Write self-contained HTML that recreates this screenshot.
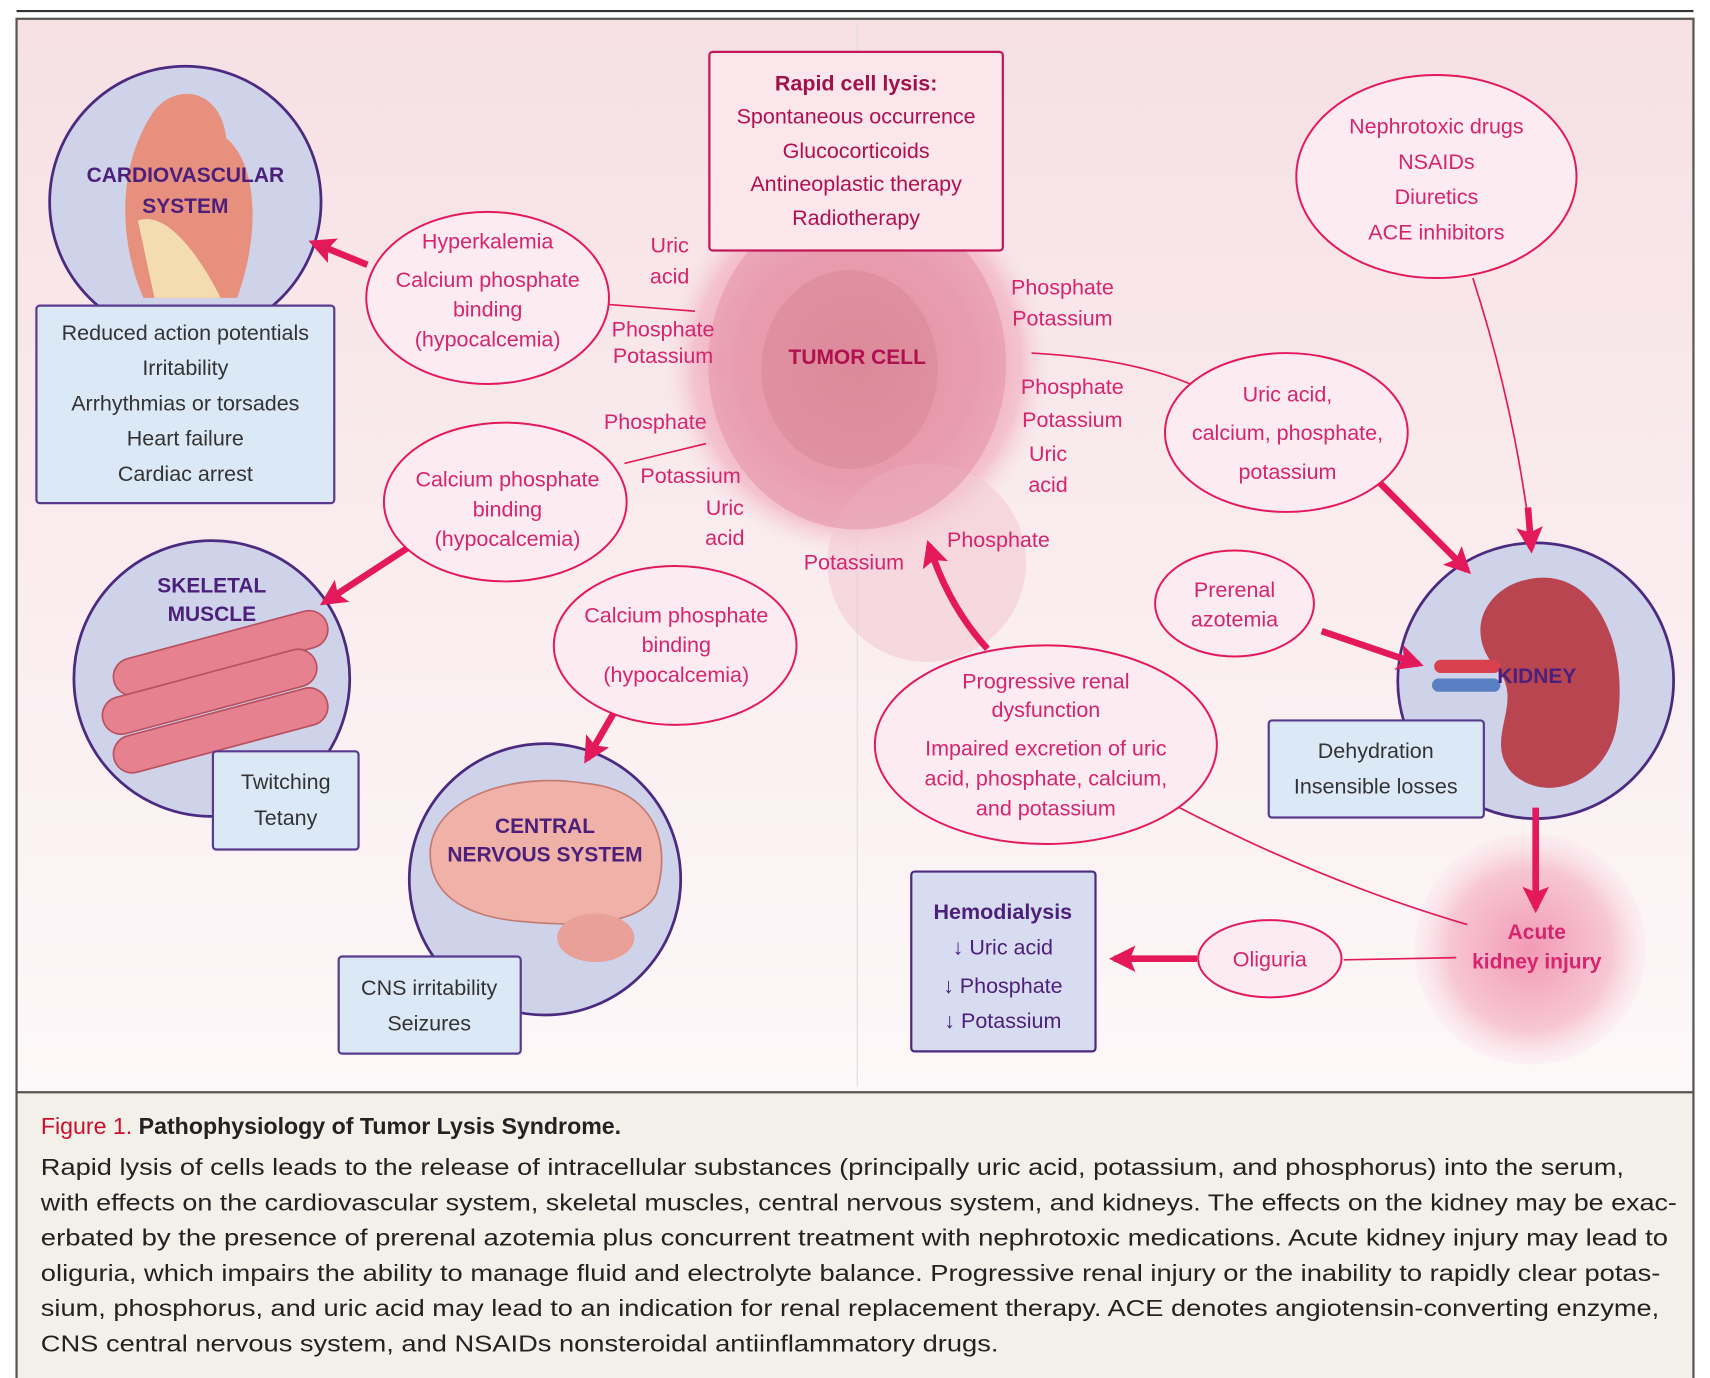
<!DOCTYPE html>
<html><head><meta charset="utf-8"><style>html,body{margin:0;padding:0;background:#fff}svg{display:block}</style></head><body>
<svg width="1710" height="1378" viewBox="0 0 1550 1249" xmlns="http://www.w3.org/2000/svg" font-family="Liberation Sans, sans-serif">
<defs>
<linearGradient id="bg" x1="0" y1="0" x2="0" y2="1"><stop offset="0" stop-color="#f6e0e4"/><stop offset="1" stop-color="#fdf8f9"/></linearGradient>
<radialGradient id="cell" cx="0.5" cy="0.5" r="0.5"><stop offset="0" stop-color="#d98a98"/><stop offset="0.6" stop-color="#eea7b8"/><stop offset="0.85" stop-color="#f4c3d0"/><stop offset="1" stop-color="#f7e0e6" stop-opacity="0"/></radialGradient>
<radialGradient id="aki" cx="0.5" cy="0.5" r="0.5"><stop offset="0" stop-color="#f29bb5"/><stop offset="0.7" stop-color="#f7c6d4"/><stop offset="1" stop-color="#fae3ea" stop-opacity="0.3"/></radialGradient>
<marker id="ah" viewBox="0 0 10 10" refX="8" refY="5" markerWidth="4" markerHeight="4" orient="auto"><path d="M0,0 L10,5 L0,10 L2,5z" fill="#e3195b"/></marker>
</defs>
<line x1="15" y1="10" x2="1535" y2="10" stroke="#333" stroke-width="2"/>
<rect x="15" y="17" width="1520" height="973" fill="url(#bg)"/>
<rect x="15" y="990" width="1520" height="267" fill="#f3f0ea"/>
<line x1="15" y1="990" x2="1535" y2="990" stroke="#555" stroke-width="2"/>
<rect x="15" y="17" width="1520" height="1240" fill="none" stroke="#555" stroke-width="2"/>
<line x1="777" y1="20" x2="777" y2="985" stroke="#ddd" stroke-width="1"/>

<!-- tumor cell -->
<circle cx="777" cy="330" r="175" fill="url(#cell)"/>
<circle cx="840" cy="510" r="90" fill="#f3c9d4" opacity="0.6"/>
<ellipse cx="777" cy="330" rx="135" ry="150" fill="#e596a8" opacity="0.6"/>
<ellipse cx="770" cy="335" rx="80" ry="90" fill="#d4808f" opacity="0.4"/>
<text x="777" y="330" text-anchor="middle" font-size="19" font-weight="bold" fill="#b0104f">TUMOR CELL</text>

<!-- AKI glow -->
<circle cx="1387" cy="860" r="105" fill="url(#aki)"/>
<text x="1393" y="851" text-anchor="middle" font-size="19" font-weight="bold" fill="#d6246e">Acute</text>
<text x="1393" y="878" text-anchor="middle" font-size="19" font-weight="bold" fill="#d6246e">kidney injury</text>

<!-- cardiovascular -->
<circle cx="168" cy="183" r="123" fill="#cfd3ea" stroke="#4b2a7f" stroke-width="2.5"/>
<path d="M140,100 C160,75 200,80 205,125 C235,150 235,215 215,270 L130,270 C108,220 105,150 140,100z" fill="#e8907e"/>
<path d="M125,200 C150,190 180,230 200,270 L140,270z" fill="#f3dcb0"/>
<text x="168" y="165" text-anchor="middle" font-size="19" font-weight="bold" fill="#4b1f7a">CARDIOVASCULAR</text>
<text x="168" y="193" text-anchor="middle" font-size="19" font-weight="bold" fill="#4b1f7a">SYSTEM</text>
<rect x="33" y="277" width="270" height="179" rx="3" fill="#dbe9f7" stroke="#5a3a8f" stroke-width="2"/>
<g font-size="19.5" fill="#333" text-anchor="middle">
<text x="168" y="308">Reduced action potentials</text>
<text x="168" y="340">Irritability</text>
<text x="168" y="372">Arrhythmias or torsades</text>
<text x="168" y="404">Heart failure</text>
<text x="168" y="436">Cardiac arrest</text>
</g>

<!-- skeletal -->
<circle cx="192" cy="615" r="125" fill="#cfd3ea" stroke="#4b2a7f" stroke-width="2.5"/>
<g fill="#e6818f" stroke="#b85060" stroke-width="1.5">
<rect x="100" y="575" width="200" height="34" rx="17" transform="rotate(-15 200 592)"/>
<rect x="90" y="610" width="200" height="34" rx="17" transform="rotate(-15 190 627)"/>
<rect x="100" y="645" width="200" height="34" rx="17" transform="rotate(-15 200 662)"/>
</g>
<text x="192" y="537" text-anchor="middle" font-size="19" font-weight="bold" fill="#4b1f7a">SKELETAL</text>
<text x="192" y="563" text-anchor="middle" font-size="19" font-weight="bold" fill="#4b1f7a">MUSCLE</text>
<rect x="193" y="681" width="132" height="89" rx="3" fill="#dbe9f7" stroke="#5a3a8f" stroke-width="2"/>
<text x="259" y="715" text-anchor="middle" font-size="19.5" fill="#333">Twitching</text>
<text x="259" y="748" text-anchor="middle" font-size="19.5" fill="#333">Tetany</text>

<!-- CNS -->
<circle cx="494" cy="797" r="123" fill="#cfd3ea" stroke="#4b2a7f" stroke-width="2.5"/>
<path d="M390,770 C395,720 470,700 530,710 C590,715 610,760 595,810 C580,840 520,840 470,835 C420,830 388,810 390,770z" fill="#f0b2a8" stroke="#c47a70" stroke-width="1.5"/>
<ellipse cx="540" cy="850" rx="35" ry="22" fill="#e8a098"/>
<text x="494" y="755" text-anchor="middle" font-size="19" font-weight="bold" fill="#4b1f7a">CENTRAL</text>
<text x="494" y="781" text-anchor="middle" font-size="19" font-weight="bold" fill="#4b1f7a">NERVOUS SYSTEM</text>
<rect x="307" y="867" width="165" height="88" rx="3" fill="#dbe9f7" stroke="#5a3a8f" stroke-width="2"/>
<text x="389" y="902" text-anchor="middle" font-size="19.5" fill="#333">CNS irritability</text>
<text x="389" y="934" text-anchor="middle" font-size="19.5" fill="#333">Seizures</text>

<!-- kidney -->
<circle cx="1392" cy="617" r="125" fill="#cfd3ea" stroke="#4b2a7f" stroke-width="2.5"/>
<path d="M1370,530 C1440,500 1480,580 1465,660 C1455,710 1400,730 1370,700 C1345,670 1380,640 1360,610 C1330,580 1340,545 1370,530z" fill="#b8454f"/>
<rect x="1300" y="598" width="60" height="12" rx="6" fill="#d9414f"/>
<rect x="1298" y="615" width="62" height="12" rx="6" fill="#5a7fc2"/>
<text x="1393" y="619" text-anchor="middle" font-size="19" font-weight="bold" fill="#4b1f7a">KIDNEY</text>
<rect x="1150" y="653" width="195" height="88" rx="3" fill="#dbe9f7" stroke="#5a3a8f" stroke-width="2"/>
<text x="1247" y="687" text-anchor="middle" font-size="19.5" fill="#333">Dehydration</text>
<text x="1247" y="719" text-anchor="middle" font-size="19.5" fill="#333">Insensible losses</text>

<!-- thin lines -->
<g stroke="#e3195b" stroke-width="1.5" fill="none">
<line x1="552" y1="276" x2="630" y2="282"/>
<line x1="566" y1="420" x2="640" y2="402"/>
<path d="M935,320 Q1030,325 1088,352"/>
<path d="M1065,730 Q1200,800 1330,838"/>
<line x1="1218" y1="870" x2="1320" y2="868"/>
<path d="M1335,252 Q1370,360 1385,470"/>
</g>
<!-- thick arrows -->
<g stroke="#e3195b" stroke-width="6" fill="none" marker-end="url(#ah)">
<line x1="333" y1="240" x2="284" y2="220"/>
<line x1="372" y1="495" x2="294" y2="546"/>
<line x1="560" y1="640" x2="532" y2="688"/>
<line x1="1245" y1="432" x2="1330" y2="517"/>
<line x1="1385" y1="460" x2="1388" y2="497"/>
<line x1="1198" y1="572" x2="1286" y2="602"/>
<line x1="1392" y1="732" x2="1392" y2="823"/>
<line x1="1085" y1="869" x2="1010" y2="869"/>
<path d="M895,588 Q860,550 842,494"/>
</g>

<!-- rapid cell lysis box -->
<rect x="643" y="47" width="266" height="180" rx="3" fill="#fbe6ec" stroke="#c2185b" stroke-width="2"/>
<g text-anchor="middle" font-size="19.5" fill="#b0104f">
<text x="776" y="82" font-weight="bold" fill="#a0104a">Rapid cell lysis:</text>
<text x="776" y="112">Spontaneous occurrence</text>
<text x="776" y="143">Glucocorticoids</text>
<text x="776" y="173">Antineoplastic therapy</text>
<text x="776" y="204">Radiotherapy</text>
</g>

<!-- ellipses -->
<g fill="#fcebf0" stroke="#e3195b" stroke-width="1.8">
<ellipse cx="442" cy="270" rx="110" ry="78"/>
<ellipse cx="458" cy="455" rx="110" ry="72"/>
<ellipse cx="612" cy="585" rx="110" ry="72"/>
<ellipse cx="1302" cy="160" rx="127" ry="92"/>
<ellipse cx="1166" cy="392" rx="110" ry="72"/>
<ellipse cx="1119" cy="547" rx="72" ry="48"/>
<ellipse cx="948" cy="675" rx="155" ry="90"/>
<ellipse cx="1151" cy="869" rx="65" ry="35"/>
</g>
<g text-anchor="middle" font-size="19.5" fill="#d6246e">
<text x="442" y="225">Hyperkalemia</text>
<text x="442" y="260">Calcium phosphate</text>
<text x="442" y="287">binding</text>
<text x="442" y="314">(hypocalcemia)</text>
<text x="460" y="441">Calcium phosphate</text>
<text x="460" y="468">binding</text>
<text x="460" y="495">(hypocalcemia)</text>
<text x="613" y="564">Calcium phosphate</text>
<text x="613" y="591">binding</text>
<text x="613" y="618">(hypocalcemia)</text>
<text x="1302" y="121">Nephrotoxic drugs</text>
<text x="1302" y="153">NSAIDs</text>
<text x="1302" y="185">Diuretics</text>
<text x="1302" y="217">ACE inhibitors</text>
<text x="1167" y="364">Uric acid,</text>
<text x="1167" y="399">calcium, phosphate,</text>
<text x="1167" y="434">potassium</text>
<text x="1119" y="541">Prerenal</text>
<text x="1119" y="568">azotemia</text>
<text x="948" y="624">Progressive renal</text>
<text x="948" y="650">dysfunction</text>
<text x="948" y="685">Impaired excretion of uric</text>
<text x="948" y="712">acid, phosphate, calcium,</text>
<text x="948" y="739">and potassium</text>
<text x="1151" y="876">Oliguria</text>
<text x="607" y="229">Uric</text>
<text x="607" y="257">acid</text>
<text x="601" y="305">Phosphate</text>
<text x="601" y="329">Potassium</text>
<text x="594" y="389">Phosphate</text>
<text x="626" y="438">Potassium</text>
<text x="657" y="467">Uric</text>
<text x="657" y="494">acid</text>
<text x="774" y="516">Potassium</text>
<text x="905" y="496">Phosphate</text>
<text x="963" y="267">Phosphate</text>
<text x="963" y="295">Potassium</text>
<text x="972" y="357">Phosphate</text>
<text x="972" y="387">Potassium</text>
<text x="950" y="418">Uric</text>
<text x="950" y="446">acid</text>
</g>

<!-- hemodialysis -->
<rect x="826" y="790" width="167" height="163" rx="3" fill="#d8dcf0" stroke="#4b2a7f" stroke-width="2"/>
<g text-anchor="middle" font-size="19.5" fill="#4b1f7a">
<text x="909" y="833" font-weight="bold">Hemodialysis</text>
<text x="909" y="865">↓ Uric acid</text>
<text x="909" y="900">↓ Phosphate</text>
<text x="909" y="932">↓ Potassium</text>
</g>

<!-- caption -->
<text x="37" y="1028" font-size="21" font-weight="bold" fill="#222"><tspan fill="#c8102e" font-weight="normal">Figure 1.</tspan> Pathophysiology of Tumor Lysis Syndrome.</text>
<g font-size="21" fill="#222">
<text x="37" y="1065" textLength="1435" lengthAdjust="spacingAndGlyphs">Rapid lysis of cells leads to the release of intracellular substances (principally uric acid, potassium, and phosphorus) into the serum,</text>
<text x="37" y="1097" textLength="1483" lengthAdjust="spacingAndGlyphs">with effects on the cardiovascular system, skeletal muscles, central nervous system, and kidneys. The effects on the kidney may be exac-</text>
<text x="37" y="1129" textLength="1475" lengthAdjust="spacingAndGlyphs">erbated by the presence of prerenal azotemia plus concurrent treatment with nephrotoxic medications. Acute kidney injury may lead to</text>
<text x="37" y="1161" textLength="1468" lengthAdjust="spacingAndGlyphs">oliguria, which impairs the ability to manage fluid and electrolyte balance. Progressive renal injury or the inability to rapidly clear potas-</text>
<text x="37" y="1193" textLength="1467" lengthAdjust="spacingAndGlyphs">sium, phosphorus, and uric acid may lead to an indication for renal replacement therapy. ACE denotes angiotensin-converting enzyme,</text>
<text x="37" y="1225" textLength="868" lengthAdjust="spacingAndGlyphs">CNS central nervous system, and NSAIDs nonsteroidal antiinflammatory drugs.</text>
</g>
</svg>
</body></html>
